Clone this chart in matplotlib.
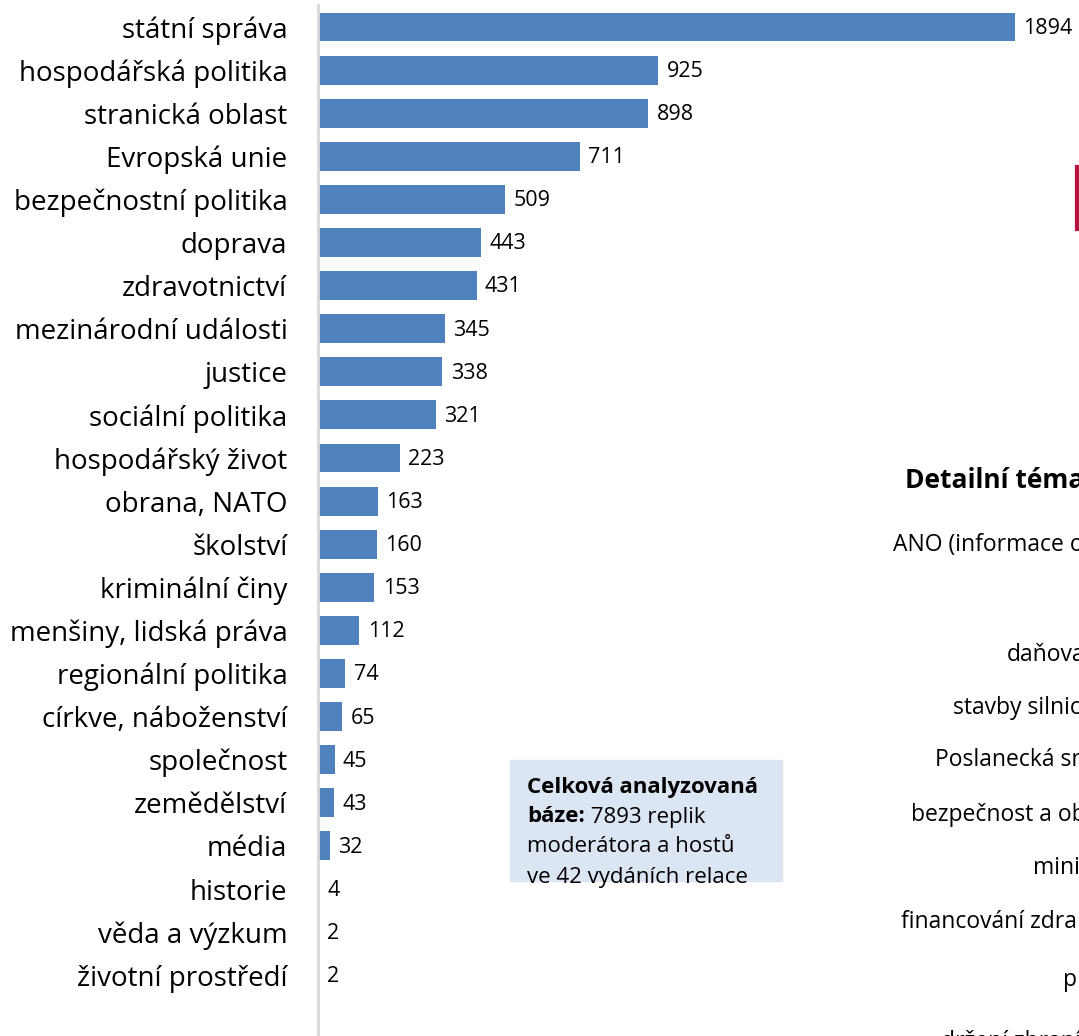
import matplotlib.pyplot as plt
from matplotlib.patches import Rectangle

# Data
categories = ["státní správa", "hospodářská politika", "stranická oblast", "Evropská unie",
              "bezpečnostní politika", "doprava", "zdravotnictví", "mezinárodní události",
              "justice", "sociální politika", "hospodářský život", "obrana, NATO", "školství",
              "kriminální činy", "menšiny, lidská práva", "regionální politika",
              "církve, náboženství", "společnost", "zemědělství", "média", "historie",
              "věda a výzkum", "životní prostředí"]
values = [1894, 925, 898, 711, 509, 443, 431, 345, 338, 321, 223, 163, 160, 153,
          112, 74, 65, 45, 43, 32, 4, 2, 2]

detail_title = "Detailní téma"
detail_labels = ["ANO (informace o", "daňova", "stavby silnic", "Poslanecká sn",
                 "bezpečnost a ob", "mini", "financování zdra", "p", "držení zbraní"]

FONT = "Open Sans"
W, H = 1079, 1036
BLUE = "#4F81BD"

fig = plt.figure(figsize=(W / 100, H / 100), dpi=100)
ax = fig.add_axes([318 / W, 0, 1 - 318 / W, 1 - 5 / H])

y = list(range(len(categories)))
ax.barh(y, values, height=0.67, color=BLUE)
ax.set_xlim(0, (W - 318) / ((1015 - 318) / 1894))
ax.set_ylim(23.41, -0.51)

# value labels next to bars
for i, v in enumerate(values):
    ax.annotate(str(v), (v, i), xytext=(6, -1), textcoords="offset points",
                va="center", ha="left", fontsize=15.5, family=FONT)

ax.set_yticks(y)
ax.set_yticklabels(categories, fontsize=20, family=FONT)
ax.tick_params(axis="y", length=0, pad=22)
ax.set_xticks([])
for s in ["top", "right", "bottom"]:
    ax.spines[s].set_visible(False)
ax.spines["left"].set_color("#D9D9D9")
ax.spines["left"].set_linewidth(2)

# Info box
fig.patches.append(Rectangle((510 / W, 1 - 881 / H), 272 / W, 121 / H,
                             transform=fig.transFigure, color="#DCE6F2", zorder=0))
box_size = 16
fig.text(527 / W, 1 - 787 / H, "Celková analyzovaná", fontsize=box_size, fontweight="bold",
         family=FONT, va="center")
t = fig.text(527 / W, 1 - 817 / H, "báze:", fontsize=box_size, fontweight="bold",
             family=FONT, va="center")
fig.canvas.draw()
bb = t.get_window_extent()
fig.text(bb.x1 / W, 1 - 817 / H, " 7893 replik", fontsize=box_size, family=FONT, va="center")
fig.text(527 / W, 1 - 847 / H, "moderátora a hostů", fontsize=box_size, family=FONT, va="center")
fig.text(527 / W, 1 - 878 / H, "ve 42 vydáních relace", fontsize=box_size, family=FONT, va="center")

# Right side (cropped neighbouring chart)
fig.text(905 / W, 1 - 481 / H, detail_title, fontsize=19, fontweight="bold",
         family=FONT, va="center")
detail_x = [893, 1007, 953, 935, 911, 1033, 901, 1063, 941]
detail_y = [545, 655, 708, 760, 815, 868, 922, 980, 1042]
for lab, dx, dy in zip(detail_labels, detail_x, detail_y):
    fig.text(dx / W, 1 - dy / H, lab, fontsize=16.5, family=FONT, va="center")

fig.add_artist(plt.Line2D([1077 / W, 1077 / W], [1 - 167 / H, 1 - 229 / H],
                          color="#B5123E", linewidth=3, transform=fig.transFigure))

fig.savefig("out.png", dpi=100)
